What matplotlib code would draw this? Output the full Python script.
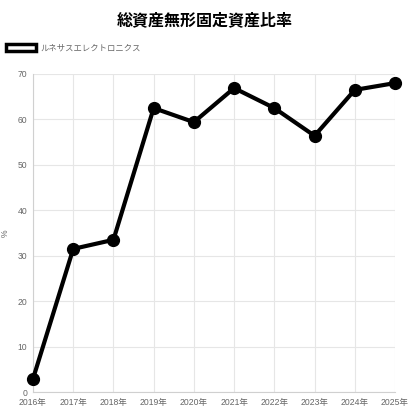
import matplotlib.pyplot as plt
from matplotlib.patches import Patch

plt.rcParams['font.family'] = ['Liberation Sans', 'Noto Sans CJK JP', 'DejaVu Sans']

years = ['2016年', '2017年', '2018年', '2019年', '2020年', '2021年', '2022年', '2023年', '2024年', '2025年']
ratio = [2.9, 31.5, 33.5, 62.5, 59.4, 66.9, 62.5, 56.4, 66.5, 68.0]
series_name = 'ルネサスエレクトロニクス'
title = '総資産無形固定資産比率'

fig = plt.figure(figsize=(4.1, 4.11), dpi=100)
ax = fig.add_axes([33 / 410, 1 - 392 / 411, 362 / 410, 318 / 411])

x = list(range(len(years)))
ax.plot(x, ratio, color='black', lw=3, marker='o', ms=8.5, zorder=3, clip_on=False)

ax.set_xlim(0, len(years) - 1)
ax.set_ylim(0, 70)
ax.set_xticks(x)
ax.set_xticklabels(years)
ax.set_yticks(range(0, 71, 10))
ax.tick_params(labelsize=6.2, colors='#666666', length=0, pad=4)
ax.grid(True, color='#e6e6e6', lw=0.8)
for s in ax.spines.values():
    s.set_visible(False)
ax.spines['left'].set_visible(True)
ax.spines['bottom'].set_visible(True)
ax.spines['left'].set_color('#d0d0d0')
ax.spines['bottom'].set_color('#d0d0d0')

ax.set_ylabel('%', fontsize=6.2, color='#666666')
ax.yaxis.set_label_coords(-23 / 362, 0.5)

fig.text(0.5, 1 - 20 / 411, title, ha='center', va='center', fontsize=11.5, fontweight='bold',
         family=['Noto Sans CJK JP', 'DejaVu Sans'])

handle = Patch(facecolor='white', edgecolor='black', lw=2.5)
fig.legend([handle], [series_name], loc='center left', bbox_to_anchor=(0, 1 - 48 / 411),
           frameon=False, labelcolor='#666666', handlelength=3.6, handleheight=0.8,
           handletextpad=0.5, borderaxespad=0.3,
           prop={'family': ['Noto Sans CJK JP', 'DejaVu Sans'], 'size': 6})

fig.savefig('out.png', dpi=100)
